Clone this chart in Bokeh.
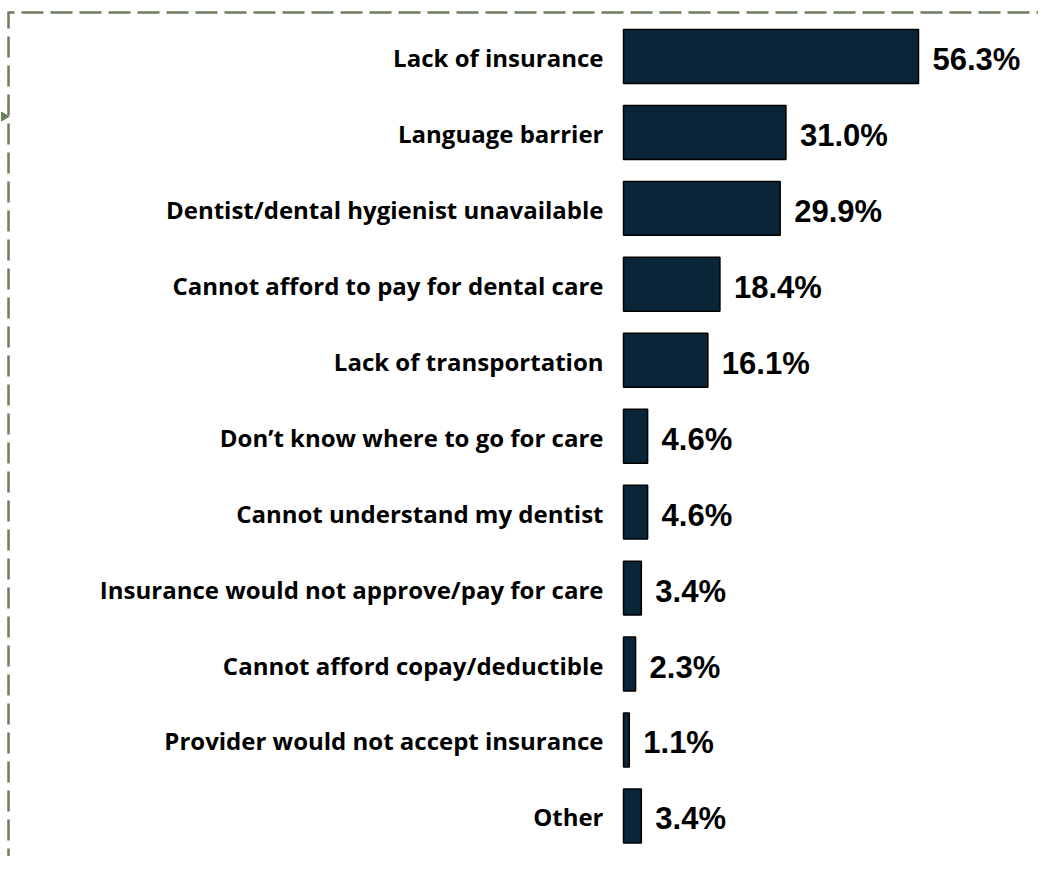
import math
from bokeh.plotting import figure
from bokeh.models import ColumnDataSource, Range1d
from bokeh.core.properties import value
from bokeh.embed import file_html
from bokeh.resources import INLINE

categories = [
    "Lack of insurance",
    "Language barrier",
    "Dentist/dental hygienist unavailable",
    "Cannot afford to pay for dental care",
    "Lack of transportation",
    "Don\u2019t know where to go for care",
    "Cannot understand my dentist",
    "Insurance would not approve/pay for care",
    "Cannot afford copay/deductible",
    "Provider would not accept insurance",
    "Other",
]
percentages = [56.3, 31.0, 29.9, 18.4, 16.1, 4.6, 4.6, 3.4, 2.3, 1.1, 3.4]
value_labels = [f"{v:.1f}%" for v in percentages]

W, H = 1038, 856
src = ColumnDataSource(dict(
    y=list(range(len(categories))),
    cat=categories,
    val=percentages,
    lab=value_labels,
))

x0, x1 = -118.9, 79.2
y_top, y_bot = -0.737, 10.534
p = figure(width=W, height=H, output_backend="svg", toolbar_location=None,
           x_range=Range1d(x0, x1), y_range=Range1d(y_bot, y_top),
           x_axis_type=None, y_axis_type=None, min_border=0,
           background_fill_color="white", border_fill_color="white")
p.outline_line_color = None
p.grid.visible = False

p.hbar(y="y", left=0, right="val", height=0.71, source=src,
       fill_color="#0A2538", line_color="#000000", line_width=1.5)

p.text(x=0, y="y", text="cat", source=src, x_offset=-20, y_offset=1,
       text_align="right", text_baseline="middle",
       text_font=value("Open Sans"), text_font_style="bold",
       text_font_size="24px", text_color="#000000")

p.text(x="val", y="y", text="lab", source=src, x_offset=14, y_offset=3,
       text_align="left", text_baseline="middle",
       text_font=value("Liberation Sans"), text_font_style="bold",
       text_font_size="31px", text_color="#000000")

# decorative dashed frame (top and left edges) and small connector arrow
px_x = W / (x1 - x0)
px_y = H / (y_bot - y_top)
def dx(px):
    return x0 + px / px_x
def dy(py):
    return y_top + py / px_y

border_color = "#6E7D5E"
p.line(x=[dx(8), dx(W + 10)], y=[dy(12), dy(12)], line_color=border_color,
       line_width=2.5, line_dash="22 7", line_dash_offset=16)
p.line(x=[dx(8), dx(8)], y=[dy(11), dy(H + 10)], line_color=border_color,
       line_width=2.5, line_dash="21 8", line_dash_offset=4)
p.scatter(x=[dx(3.5)], y=[dy(116)], marker="triangle", size=9,
          angle=-math.pi / 2, fill_color=border_color, line_color=border_color)

open("out.html", "w").write(file_html(p, INLINE))
